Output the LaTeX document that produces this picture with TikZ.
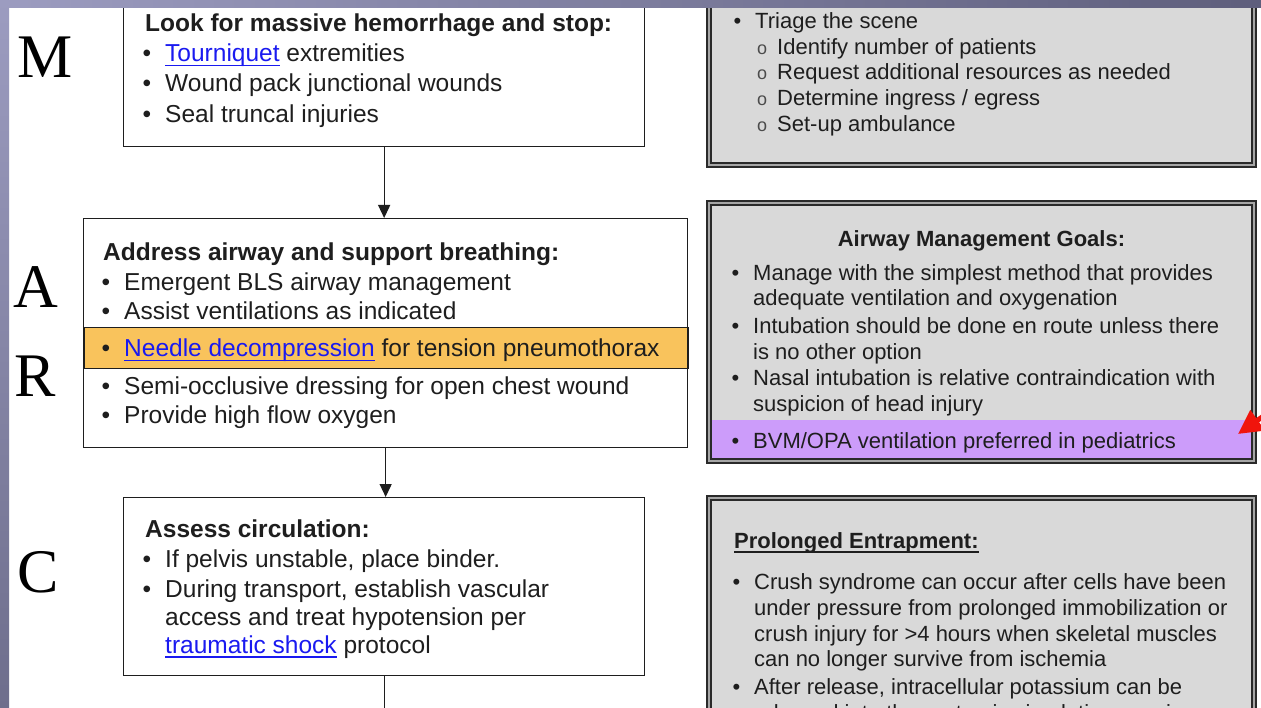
\documentclass[tikz,border=0pt]{standalone}
\usepackage{fontspec}
\setmainfont{Liberation Sans}
\newfontfamily\capsfont{Liberation Serif}
\usetikzlibrary{arrows.meta}

\definecolor{ink}{HTML}{1E1E1E}
\definecolor{linkblue}{HTML}{1A1AF0}
\definecolor{panelgray}{HTML}{D9D9D9}
\definecolor{gapgray}{HTML}{A6A6A6}
\definecolor{framedark}{HTML}{2A2A2A}
\definecolor{hlorange}{HTML}{F9C35C}
\definecolor{hlpurple}{HTML}{CC9CFA}
\definecolor{barlight}{HTML}{9C9CC0}
\definecolor{bardark}{HTML}{5E5E7C}
\definecolor{sidedark}{HTML}{6E6E8C}
\definecolor{alertred}{HTML}{F0140C}

% list markers hang to the left of the text start
\newcommand\itembul{\llap{\textbullet\hspace{14pt}}}
\newcommand\subbul{\llap{{\fontsize{18}{18}\selectfont\color{ink!80}o}\hspace{10pt}}}
% underlined words (hyperlinks and underlined headings)
\newcommand\underword[1]{\setbox0\hbox{#1}\rlap{\rule[-4.5pt]{\wd0}{1.1pt}}\box0}
\newcommand\hyperword[1]{{\color{linkblue}\underword{#1}}}

\tikzset{
  lbox/.style={draw=ink, line width=1.3pt, fill=white, inner sep=0, anchor=north west},
  panel/.style={fill=panelgray, inner sep=0, anchor=north west},
  dframe/.style={draw=framedark, line width=2.2pt, double=gapgray, double distance=1.8pt},
  ltxt/.style={font=\fontsize{24.5}{29}\selectfont, text=ink, inner sep=0, anchor=base west},
  rtxt/.style={font=\fontsize{22}{26}\selectfont, text=ink, inner sep=0, anchor=base west},
  bigletter/.style={font=\capsfont\fontsize{62}{62}\selectfont, text=black, inner sep=0, anchor=base west},
  flow/.style={draw=ink, line width=1.3pt, -{Triangle[length=13pt,width=12pt]}},
  tail/.style={draw=ink, line width=1.3pt},
  redarrow/.style={draw=alertred, line width=5pt, -{Triangle[length=24pt,width=24pt]}}
}

\begin{document}
\begin{tikzpicture}[x=1pt,y=-1pt]
\useasboundingbox (0,0) rectangle (1261,708);
\clip (0,0) rectangle (1261,708);
\fill[white] (0,0) rectangle (1261,708);

% ---------- left column: M / A-R / C steps ----------
\node[lbox, minimum width=521pt, minimum height=156pt] (mbox) at (123,-10) {};
\node[lbox, minimum width=604pt, minimum height=229pt] (abox) at (83,218) {};
\node[draw=ink, line width=1.5pt, fill=hlorange, inner sep=0, anchor=north west,
      minimum width=604pt, minimum height=41pt] (needle) at (83,327) {};
\node[lbox, minimum width=521pt, minimum height=178pt] (cbox) at (123,497) {};

\draw[flow] (mbox.south) -- (mbox.south |- abox.north);
\draw[flow] (abox.south) -- (abox.south |- cbox.north);
\coordinate (ctail) at (384,730);
\draw[tail] (cbox.south) -- (cbox.south |- ctail);

\node[bigletter] (letM) at (17,78) {M};
\node[bigletter] (letA) at (13,308) {A};
\node[bigletter] (letR) at (14,397) {R};
\node[bigletter] (letC) at (17,592) {C};

\node[ltxt] (m0) at (145,32) {\textbf{Look for massive hemorrhage and stop:}};
\node[ltxt] (m1) at (165,62) {\itembul\hyperword{Tourniquet} extremities};
\node[ltxt] (m2) at (165,92) {\itembul Wound pack junctional wounds};
\node[ltxt] (m3) at (165,123) {\itembul Seal truncal injuries};

\node[ltxt] (a0) at (103,261) {\textbf{Address airway and support breathing:}};
\node[ltxt] (a1) at (124,291) {\itembul Emergent BLS airway management};
\node[ltxt] (a2) at (124,320) {\itembul Assist ventilations as indicated};
\node[ltxt] (a3) at (124,357) {\itembul\hyperword{Needle decompression} for tension pneumothorax};
\node[ltxt] (a4) at (124,395) {\itembul Semi-occlusive dressing for open chest wound};
\node[ltxt] (a5) at (124,424) {\itembul Provide high flow oxygen};

\node[ltxt] (c0) at (145,537) {\textbf{Assess circulation:}};
\node[ltxt] (c1) at (165,567) {\itembul If pelvis unstable, place binder.};
\node[ltxt] (c2) at (165,597) {\itembul During transport, establish vascular};
\node[ltxt] (c3) at (165,625) {access and treat hypotension per};
\node[ltxt] (c4) at (165,653) {\hyperword{traumatic shock} protocol};

% ---------- right column: grey panels with double frames ----------
\node[panel, minimum width=544.8pt, minimum height=185pt] (scene) at (709.1,-20) {};
\draw[dframe] (scene.north west) rectangle (scene.south east);

\node[panel, minimum width=544.8pt, minimum height=257.8pt] (airway) at (709.1,203.1) {};
\fill[hlpurple] (709.1,420) rectangle (airway.south east);
\draw[dframe] (airway.north west) rectangle (airway.south east);

\node[panel, minimum width=544.8pt, minimum height=260pt] (entrap) at (709.1,498.1) {};
\draw[dframe] (entrap.north west) rectangle (entrap.south east);

\node[rtxt] (s0) at (755,29) {\itembul Triage the scene};
\node[rtxt] (s1) at (777,55) {\subbul Identify number of patients};
\node[rtxt] (s2) at (777,80) {\subbul Request additional resources as needed};
\node[rtxt] (s3) at (777,106) {\subbul Determine ingress / egress};
\node[rtxt] (s4) at (777,132) {\subbul Set-up ambulance};

\node[rtxt, anchor=base] (w0) at (981.5,247) {\textbf{Airway Management Goals:}};
\node[rtxt] (w1) at (753,281) {\itembul Manage with the simplest method that provides};
\node[rtxt] (w2) at (753,306) {adequate ventilation and oxygenation};
\node[rtxt] (w3) at (753,334) {\itembul Intubation should be done en route unless there};
\node[rtxt] (w4) at (753,360) {is no other option};
\node[rtxt] (w5) at (753,386) {\itembul Nasal intubation is relative contraindication with};
\node[rtxt] (w6) at (753,412) {suspicion of head injury};
\node[rtxt] (w7) at (753,448) {\itembul BVM/OPA ventilation preferred in pediatrics};

\node[rtxt] (e0) at (734,548) {\textbf{\underword{Prolonged Entrapment:}}};
\node[rtxt] (e1) at (754,589) {\itembul Crush syndrome can occur after cells have been};
\node[rtxt] (e2) at (754,615) {under pressure from prolonged immobilization or};
\node[rtxt] (e3) at (754,641) {crush injury for >4 hours when skeletal muscles};
\node[rtxt] (e4) at (754,666) {can no longer survive from ischemia};
\node[rtxt] (e5) at (754,694) {\itembul After release, intracellular potassium can be};
\node[rtxt] (e6) at (754,720) {released into the systemic circulation causing};

% ---------- slide frame strips ----------
\shade[left color=barlight, right color=bardark] (0,0) rectangle (1261,8);
\shade[top color=barlight, bottom color=sidedark] (0,0) rectangle (9,708);

% ---------- pointer to the pediatric note ----------
\coordinate (redtail) at (1292,396);
\coordinate (redtip) at (1238,434);
\draw[redarrow] (redtail) -- (redtip);
\end{tikzpicture}
\end{document}
